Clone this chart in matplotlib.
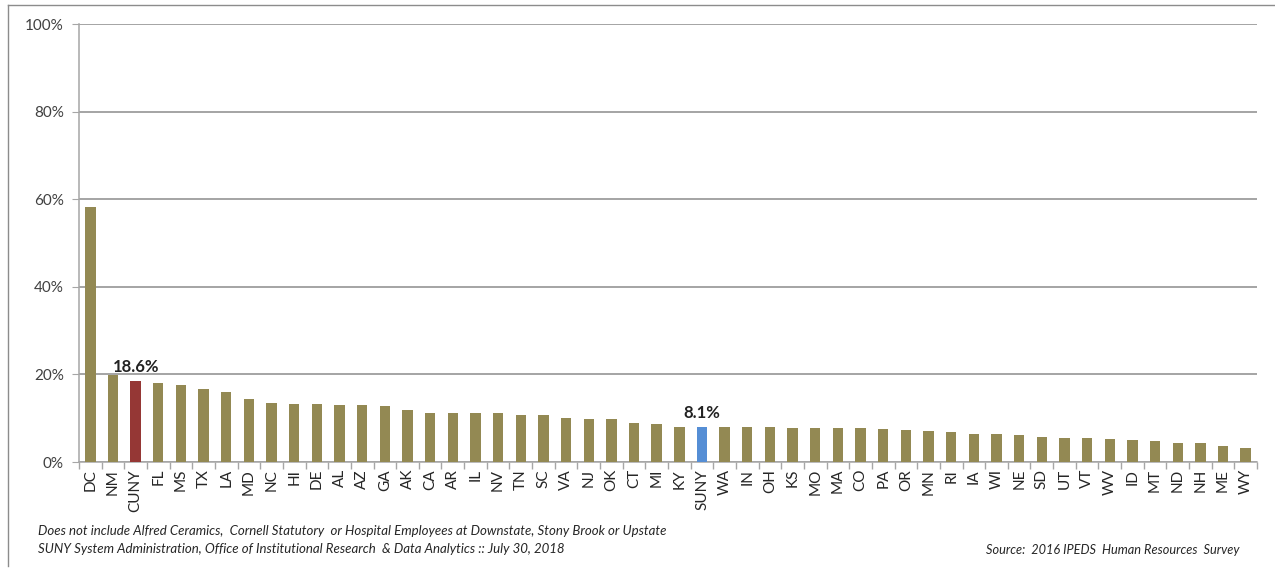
import matplotlib.pyplot as plt
from matplotlib.lines import Line2D
from matplotlib.ticker import FuncFormatter, FixedLocator
import numpy as np

plt.rcParams['font.family'] = ['Lato', 'DejaVu Sans']

# Share of employees (%) by state / system
states = ['DC', 'NM', 'CUNY', 'FL', 'MS', 'TX', 'LA', 'MD', 'NC', 'HI', 'DE', 'AL', 'AZ', 'GA',
          'AK', 'CA', 'AR', 'IL', 'NV', 'TN', 'SC', 'VA', 'NJ', 'OK', 'CT', 'MI', 'KY', 'SUNY',
          'WA', 'IN', 'OH', 'KS', 'MO', 'MA', 'CO', 'PA', 'OR', 'MN', 'RI', 'IA', 'WI', 'NE',
          'SD', 'UT', 'VT', 'WV', 'ID', 'MT', 'ND', 'NH', 'ME', 'WY']
values = [58.2, 19.9, 18.6, 18.0, 17.6, 16.7, 16.0, 14.4, 13.5, 13.2, 13.2, 13.0, 13.0, 12.8,
          11.9, 11.3, 11.3, 11.3, 11.3, 10.8, 10.8, 10.0, 9.8, 9.8, 8.9, 8.6, 8.1, 8.1,
          8.1, 7.9, 7.9, 7.7, 7.7, 7.7, 7.7, 7.5, 7.2, 7.0, 6.8, 6.5, 6.5, 6.2,
          5.8, 5.5, 5.5, 5.3, 5.0, 4.8, 4.3, 4.3, 3.6, 3.1]
highlight = {'CUNY': '#953735', 'SUNY': '#558ED5'}
labelled = {'CUNY': '18.6%', 'SUNY': '8.1%'}

fig = plt.figure(figsize=(12.75, 5.75), dpi=100)
ax = fig.add_axes([79 / 1275, 1 - 462 / 575, (1257 - 79) / 1275, (462 - 24) / 575])

x = np.arange(len(states))
colors = [highlight.get(s, '#938953') for s in states]
ax.bar(x, values, width=0.46, color=colors, zorder=3)

for i, s in enumerate(states):
    if s in labelled:
        ax.text(i, values[i] + 1.3, labelled[s], ha='center', va='bottom',
                fontsize=12, fontweight='bold', color='#222222')

ax.set_xlim(-0.5, len(states) - 0.5)
ax.set_ylim(0, 100)
ax.set_yticks(range(0, 101, 20))
ax.yaxis.set_major_formatter(FuncFormatter(lambda v, p: f'{int(v)}%'))
ax.grid(axis='y', color='#8c8c8c', linewidth=1.1, zorder=0)

ax.set_xticks(x)
ax.set_xticklabels(states, rotation=90, fontsize=11, color='#262626')
ax.tick_params(axis='x', which='major', length=0, pad=5)
ax.xaxis.set_minor_locator(FixedLocator(np.arange(-0.5, len(states), 1.0)))
ax.tick_params(axis='x', which='minor', length=5, color='#a6a6a6', width=1)
ax.tick_params(axis='y', length=5, color='#a6a6a6', labelsize=11, labelcolor='#404040', pad=6)

for side in ['top', 'right']:
    ax.spines[side].set_visible(False)
for side in ['left', 'bottom']:
    ax.spines[side].set_color('#a6a6a6')
    ax.spines[side].set_linewidth(1.1)

# outer chart frame
fig.add_artist(Line2D([8 / 1275, 8 / 1275], [0.015, 1 - 5 / 575], transform=fig.transFigure,
                      color='#8c8c8c', linewidth=1))
fig.add_artist(Line2D([8 / 1275, 1.0], [1 - 5 / 575, 1 - 5 / 575], transform=fig.transFigure,
                      color='#8c8c8c', linewidth=1))

fig.text(38 / 1275, 1 - 531 / 575,
         'Does not include Alfred Ceramics,  Cornell Statutory  or Hospital Employees at Downstate, Stony Brook or Upstate',
         fontsize=9.5, style='italic', color='#262626', va='center')
fig.text(38 / 1275, 1 - 549 / 575,
         'SUNY System Administration, Office of Institutional Research  & Data Analytics :: July 30, 2018',
         fontsize=9.5, style='italic', color='#262626', va='center')
fig.text(1240 / 1275, 1 - 550 / 575, 'Source:  2016 IPEDS  Human Resources  Survey',
         fontsize=9.2, style='italic', color='#262626', va='center', ha='right')

fig.savefig('out.png', dpi=100)
